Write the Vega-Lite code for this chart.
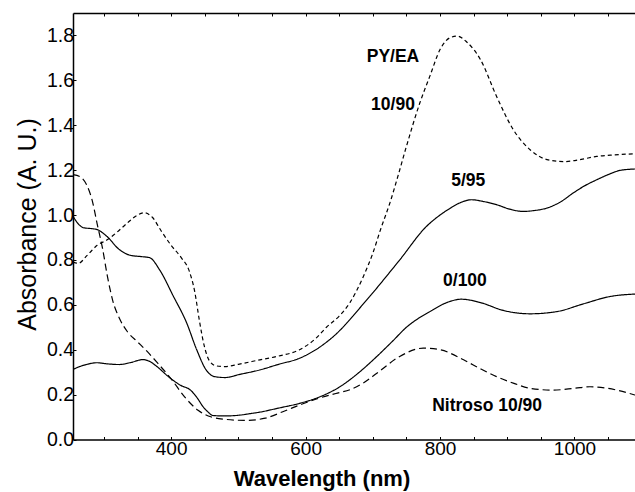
{
  "$schema": "https://vega.github.io/schema/vega-lite/v6.json",
  "width": 562,
  "height": 426.5,
  "autosize": {"type": "none"},
  "padding": {"left": 73, "top": 13, "right": 0, "bottom": 52.5},
  "background": "white",
  "view": {"stroke": null},
  "config": {"font": "Liberation Sans"},
  "datasets": {
    "curves": [
      {"s": "PY/EA 10/90", "nm": 254, "a": 0.79},
      {"s": "PY/EA 10/90", "nm": 262, "a": 0.785},
      {"s": "PY/EA 10/90", "nm": 275, "a": 0.82},
      {"s": "PY/EA 10/90", "nm": 290, "a": 0.865},
      {"s": "PY/EA 10/90", "nm": 305, "a": 0.89},
      {"s": "PY/EA 10/90", "nm": 320, "a": 0.925},
      {"s": "PY/EA 10/90", "nm": 335, "a": 0.965},
      {"s": "PY/EA 10/90", "nm": 350, "a": 1.0},
      {"s": "PY/EA 10/90", "nm": 360, "a": 1.01},
      {"s": "PY/EA 10/90", "nm": 372, "a": 0.99},
      {"s": "PY/EA 10/90", "nm": 385, "a": 0.93},
      {"s": "PY/EA 10/90", "nm": 400, "a": 0.865},
      {"s": "PY/EA 10/90", "nm": 415, "a": 0.81},
      {"s": "PY/EA 10/90", "nm": 427, "a": 0.75},
      {"s": "PY/EA 10/90", "nm": 435, "a": 0.66},
      {"s": "PY/EA 10/90", "nm": 442, "a": 0.53},
      {"s": "PY/EA 10/90", "nm": 449, "a": 0.42},
      {"s": "PY/EA 10/90", "nm": 457, "a": 0.35},
      {"s": "PY/EA 10/90", "nm": 467, "a": 0.328},
      {"s": "PY/EA 10/90", "nm": 480, "a": 0.325},
      {"s": "PY/EA 10/90", "nm": 500, "a": 0.335},
      {"s": "PY/EA 10/90", "nm": 532, "a": 0.355},
      {"s": "PY/EA 10/90", "nm": 560, "a": 0.372},
      {"s": "PY/EA 10/90", "nm": 591, "a": 0.4},
      {"s": "PY/EA 10/90", "nm": 615, "a": 0.45},
      {"s": "PY/EA 10/90", "nm": 631, "a": 0.5},
      {"s": "PY/EA 10/90", "nm": 650, "a": 0.55},
      {"s": "PY/EA 10/90", "nm": 666, "a": 0.61},
      {"s": "PY/EA 10/90", "nm": 685, "a": 0.72},
      {"s": "PY/EA 10/90", "nm": 700, "a": 0.83},
      {"s": "PY/EA 10/90", "nm": 712, "a": 0.94},
      {"s": "PY/EA 10/90", "nm": 725, "a": 1.05},
      {"s": "PY/EA 10/90", "nm": 738, "a": 1.18},
      {"s": "PY/EA 10/90", "nm": 750, "a": 1.306},
      {"s": "PY/EA 10/90", "nm": 770, "a": 1.5},
      {"s": "PY/EA 10/90", "nm": 785, "a": 1.62},
      {"s": "PY/EA 10/90", "nm": 800, "a": 1.737},
      {"s": "PY/EA 10/90", "nm": 815, "a": 1.79},
      {"s": "PY/EA 10/90", "nm": 826, "a": 1.797},
      {"s": "PY/EA 10/90", "nm": 840, "a": 1.77},
      {"s": "PY/EA 10/90", "nm": 860, "a": 1.693},
      {"s": "PY/EA 10/90", "nm": 884, "a": 1.529},
      {"s": "PY/EA 10/90", "nm": 909, "a": 1.38},
      {"s": "PY/EA 10/90", "nm": 934, "a": 1.291},
      {"s": "PY/EA 10/90", "nm": 959, "a": 1.247},
      {"s": "PY/EA 10/90", "nm": 985, "a": 1.238},
      {"s": "PY/EA 10/90", "nm": 1010, "a": 1.248},
      {"s": "PY/EA 10/90", "nm": 1033, "a": 1.261},
      {"s": "PY/EA 10/90", "nm": 1060, "a": 1.268},
      {"s": "PY/EA 10/90", "nm": 1090, "a": 1.273},

      {"s": "5/95", "nm": 254, "a": 0.995},
      {"s": "5/95", "nm": 262, "a": 0.96},
      {"s": "5/95", "nm": 270, "a": 0.943},
      {"s": "5/95", "nm": 280, "a": 0.94},
      {"s": "5/95", "nm": 290, "a": 0.935},
      {"s": "5/95", "nm": 304, "a": 0.906},
      {"s": "5/95", "nm": 323, "a": 0.846},
      {"s": "5/95", "nm": 340, "a": 0.82},
      {"s": "5/95", "nm": 355, "a": 0.815},
      {"s": "5/95", "nm": 368, "a": 0.81},
      {"s": "5/95", "nm": 383, "a": 0.755},
      {"s": "5/95", "nm": 403, "a": 0.64},
      {"s": "5/95", "nm": 423, "a": 0.52},
      {"s": "5/95", "nm": 438, "a": 0.4},
      {"s": "5/95", "nm": 452, "a": 0.31},
      {"s": "5/95", "nm": 465, "a": 0.28},
      {"s": "5/95", "nm": 480, "a": 0.276},
      {"s": "5/95", "nm": 502, "a": 0.29},
      {"s": "5/95", "nm": 532, "a": 0.31},
      {"s": "5/95", "nm": 560, "a": 0.335},
      {"s": "5/95", "nm": 591, "a": 0.362},
      {"s": "5/95", "nm": 641, "a": 0.458},
      {"s": "5/95", "nm": 691, "a": 0.622},
      {"s": "5/95", "nm": 740, "a": 0.8},
      {"s": "5/95", "nm": 780, "a": 0.95},
      {"s": "5/95", "nm": 800, "a": 1.0},
      {"s": "5/95", "nm": 815, "a": 1.03},
      {"s": "5/95", "nm": 830, "a": 1.055},
      {"s": "5/95", "nm": 847, "a": 1.068},
      {"s": "5/95", "nm": 865, "a": 1.06},
      {"s": "5/95", "nm": 884, "a": 1.046},
      {"s": "5/95", "nm": 905, "a": 1.025},
      {"s": "5/95", "nm": 924, "a": 1.016},
      {"s": "5/95", "nm": 940, "a": 1.02},
      {"s": "5/95", "nm": 959, "a": 1.031},
      {"s": "5/95", "nm": 980, "a": 1.06},
      {"s": "5/95", "nm": 998, "a": 1.098},
      {"s": "5/95", "nm": 1015, "a": 1.13},
      {"s": "5/95", "nm": 1033, "a": 1.157},
      {"s": "5/95", "nm": 1050, "a": 1.18},
      {"s": "5/95", "nm": 1068, "a": 1.199},
      {"s": "5/95", "nm": 1090, "a": 1.205},

      {"s": "0/100", "nm": 254, "a": 0.312},
      {"s": "0/100", "nm": 264, "a": 0.325},
      {"s": "0/100", "nm": 274, "a": 0.334},
      {"s": "0/100", "nm": 289, "a": 0.342},
      {"s": "0/100", "nm": 305, "a": 0.337},
      {"s": "0/100", "nm": 323, "a": 0.334},
      {"s": "0/100", "nm": 340, "a": 0.343},
      {"s": "0/100", "nm": 358, "a": 0.356},
      {"s": "0/100", "nm": 368, "a": 0.348},
      {"s": "0/100", "nm": 378, "a": 0.327},
      {"s": "0/100", "nm": 398, "a": 0.275},
      {"s": "0/100", "nm": 415, "a": 0.24},
      {"s": "0/100", "nm": 428, "a": 0.222},
      {"s": "0/100", "nm": 440, "a": 0.18},
      {"s": "0/100", "nm": 447, "a": 0.148},
      {"s": "0/100", "nm": 455, "a": 0.122},
      {"s": "0/100", "nm": 462, "a": 0.107},
      {"s": "0/100", "nm": 480, "a": 0.105},
      {"s": "0/100", "nm": 500, "a": 0.108},
      {"s": "0/100", "nm": 517, "a": 0.115},
      {"s": "0/100", "nm": 532, "a": 0.122},
      {"s": "0/100", "nm": 560, "a": 0.14},
      {"s": "0/100", "nm": 591, "a": 0.161},
      {"s": "0/100", "nm": 621, "a": 0.19},
      {"s": "0/100", "nm": 651, "a": 0.235},
      {"s": "0/100", "nm": 680, "a": 0.3},
      {"s": "0/100", "nm": 706, "a": 0.37},
      {"s": "0/100", "nm": 730, "a": 0.44},
      {"s": "0/100", "nm": 750, "a": 0.5},
      {"s": "0/100", "nm": 768, "a": 0.54},
      {"s": "0/100", "nm": 785, "a": 0.57},
      {"s": "0/100", "nm": 810, "a": 0.61},
      {"s": "0/100", "nm": 832, "a": 0.625},
      {"s": "0/100", "nm": 860, "a": 0.61},
      {"s": "0/100", "nm": 894, "a": 0.575},
      {"s": "0/100", "nm": 934, "a": 0.56},
      {"s": "0/100", "nm": 974, "a": 0.57},
      {"s": "0/100", "nm": 1013, "a": 0.604},
      {"s": "0/100", "nm": 1053, "a": 0.637},
      {"s": "0/100", "nm": 1090, "a": 0.648},

      {"s": "Nitroso 10/90", "nm": 254, "a": 1.18},
      {"s": "Nitroso 10/90", "nm": 265, "a": 1.17},
      {"s": "Nitroso 10/90", "nm": 275, "a": 1.13},
      {"s": "Nitroso 10/90", "nm": 283, "a": 1.06},
      {"s": "Nitroso 10/90", "nm": 290, "a": 0.96},
      {"s": "Nitroso 10/90", "nm": 298, "a": 0.85},
      {"s": "Nitroso 10/90", "nm": 305, "a": 0.73},
      {"s": "Nitroso 10/90", "nm": 313, "a": 0.62},
      {"s": "Nitroso 10/90", "nm": 323, "a": 0.54},
      {"s": "Nitroso 10/90", "nm": 335, "a": 0.48},
      {"s": "Nitroso 10/90", "nm": 350, "a": 0.435},
      {"s": "Nitroso 10/90", "nm": 365, "a": 0.39},
      {"s": "Nitroso 10/90", "nm": 380, "a": 0.34},
      {"s": "Nitroso 10/90", "nm": 400, "a": 0.27},
      {"s": "Nitroso 10/90", "nm": 420, "a": 0.19},
      {"s": "Nitroso 10/90", "nm": 440, "a": 0.13},
      {"s": "Nitroso 10/90", "nm": 460, "a": 0.1},
      {"s": "Nitroso 10/90", "nm": 480, "a": 0.09},
      {"s": "Nitroso 10/90", "nm": 510, "a": 0.085},
      {"s": "Nitroso 10/90", "nm": 540, "a": 0.095},
      {"s": "Nitroso 10/90", "nm": 567, "a": 0.125},
      {"s": "Nitroso 10/90", "nm": 595, "a": 0.158},
      {"s": "Nitroso 10/90", "nm": 621, "a": 0.185},
      {"s": "Nitroso 10/90", "nm": 645, "a": 0.205},
      {"s": "Nitroso 10/90", "nm": 666, "a": 0.222},
      {"s": "Nitroso 10/90", "nm": 685, "a": 0.25},
      {"s": "Nitroso 10/90", "nm": 706, "a": 0.295},
      {"s": "Nitroso 10/90", "nm": 740, "a": 0.37},
      {"s": "Nitroso 10/90", "nm": 775, "a": 0.407},
      {"s": "Nitroso 10/90", "nm": 800, "a": 0.4},
      {"s": "Nitroso 10/90", "nm": 835, "a": 0.355},
      {"s": "Nitroso 10/90", "nm": 860, "a": 0.315},
      {"s": "Nitroso 10/90", "nm": 884, "a": 0.28},
      {"s": "Nitroso 10/90", "nm": 910, "a": 0.25},
      {"s": "Nitroso 10/90", "nm": 934, "a": 0.228},
      {"s": "Nitroso 10/90", "nm": 968, "a": 0.22},
      {"s": "Nitroso 10/90", "nm": 1000, "a": 0.228},
      {"s": "Nitroso 10/90", "nm": 1023, "a": 0.235},
      {"s": "Nitroso 10/90", "nm": 1045, "a": 0.23},
      {"s": "Nitroso 10/90", "nm": 1063, "a": 0.22},
      {"s": "Nitroso 10/90", "nm": 1090, "a": 0.198}
    ],
    "labels": [
      {"x": 730, "y": 1.705, "label": "PY/EA"},
      {"x": 730, "y": 1.489, "label": "10/90"},
      {"x": 842, "y": 1.153, "label": "5/95"},
      {"x": 837, "y": 0.704, "label": "0/100"},
      {"x": 870, "y": 0.151, "label": "Nitroso 10/90"}
    ]
  },
  "layer": [
    {
      "data": {"name": "curves"},
      "mark": {"type": "line", "interpolate": "monotone", "color": "black", "strokeWidth": 1.2, "clip": true},
      "encoding": {
        "x": {
          "field": "nm", "type": "quantitative",
          "scale": {"domain": [254, 1090], "nice": false, "zero": false},
          "axis": {
            "orient": "bottom",
            "values": [300, 350, 400, 450, 500, 550, 600, 650, 700, 750, 800, 850, 900, 950, 1000, 1050],
            "format": "d",
            "labelExpr": "datum.value % 200 == 0 ? datum.label : ''",
            "grid": false,
            "tickSize": -3, "tickColor": "black", "tickWidth": 1,
            "domainColor": "black", "domainWidth": 1.5,
            "labelFont": "Liberation Sans", "labelFontSize": 19, "labelColor": "black",
            "labelPadding": 3, "labelFlush": false, "labelOverlap": false,
            "title": "Wavelength (nm)",
            "titleFont": "Liberation Sans", "titleFontSize": 22, "titleFontWeight": "bold", "titleColor": "black",
            "titleX": 248.5, "titleY": 46, "titleAlign": "center", "titleBaseline": "alphabetic"
          }
        },
        "y": {
          "field": "a", "type": "quantitative",
          "scale": {"domain": [0, 1.9], "nice": false, "zero": false},
          "axis": {
            "orient": "left",
            "values": [0, 0.1, 0.2, 0.3, 0.4, 0.5, 0.6, 0.7, 0.8, 0.9, 1.0, 1.1, 1.2, 1.3, 1.4, 1.5, 1.6, 1.7, 1.8],
            "labelExpr": "round(datum.value * 10) % 2 == 0 ? format(datum.value, '.1f') : ''",
            "grid": false,
            "tickSize": -3, "tickColor": "black", "tickWidth": 1,
            "domainColor": "black", "domainWidth": 1.5,
            "labelFont": "Liberation Sans", "labelFontSize": 19.5, "labelColor": "black",
            "labelPadding": 2.5, "labelFlush": false, "labelOverlap": false,
            "title": "Absorbance (A. U.)",
            "titleFont": "Liberation Sans", "titleFontSize": 25, "titleFontWeight": "normal", "titleColor": "black",
            "titleX": -46, "titleY": 211, "titleAngle": -90, "titleAlign": "center", "titleBaseline": "middle"
          }
        },
        "strokeDash": {
          "field": "s", "type": "nominal",
          "scale": {"domain": ["PY/EA 10/90", "5/95", "0/100", "Nitroso 10/90"], "range": [[4, 3], [1, 0], [1, 0], [7, 4]]},
          "legend": null
        }
      }
    },
    {
      "data": {"name": "labels"},
      "mark": {"type": "text", "font": "Liberation Sans", "fontWeight": "bold", "fontSize": 17.5, "align": "center", "baseline": "middle", "color": "black"},
      "encoding": {
        "x": {
          "field": "x", "type": "quantitative",
          "scale": {"domain": [254, 1090], "nice": false, "zero": false},
          "axis": {
            "orient": "top",
            "values": [300, 350, 400, 450, 500, 550, 600, 650, 700, 750, 800, 850, 900, 950, 1000, 1050],
            "labels": false, "grid": false, "title": null,
            "tickSize": -3, "tickColor": "black", "tickWidth": 1,
            "domainColor": "black", "domainWidth": 1.5
          }
        },
        "y": {
          "field": "y", "type": "quantitative",
          "scale": {"domain": [0, 1.9], "nice": false, "zero": false},
          "title": "Absorbance (A. U.)"
        },
        "text": {"field": "label", "type": "nominal"}
      }
    }
  ],
  "resolve": {"axis": {"x": "independent", "y": "shared"}}
}
